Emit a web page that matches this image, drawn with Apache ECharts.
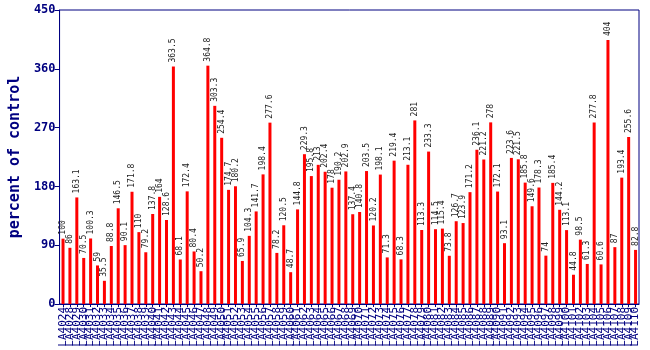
<!DOCTYPE html>
<html>
<head>
<meta charset="utf-8">
<script src="https://cdn.jsdelivr.net/npm/echarts@6/dist/echarts.min.js"></script>
<style>html,body{margin:0;padding:0;background:#fff;}#c{width:650px;height:350px;}</style>
</head>
<body>
<div id="c"></div>
<script>
var values = [100, 86, 163.1, 70.5, 100.3, 59, 35.5, 88.8, 146.5, 90.1, 171.8, 110, 79.2, 137.8, 164, 128.6, 363.5, 68.1, 172.4, 80.4, 50.2, 364.8,
  303.3, 254.4, 174.7, 180.2, 65.9, 104.3, 141.7, 198.4, 277.6, 78.2, 120.5, 48.7, 144.8, 229.3, 195.8, 213, 202.4, 178, 190.2, 202.9, 137.4,
  140.8, 203.5, 120.2, 198.1, 71.3, 219.4, 68.3, 213.1, 281, 113.3, 233.3, 114.5, 115.4, 73.8, 126.7, 123.9, 171.2, 236.1, 221.2, 278, 172.1, 93.1,
  223.6, 221.5, 185.8, 149.6, 178.3, 74, 185.4, 144.2, 113.1, 44.8, 98.5, 61.3, 277.8, 60.6, 404, 87, 193.4, 255.6, 82.8];
var categories = ['LA4024'];
var rest = [];
for (var n = 4028; n < 4028 + 83; n++) rest.push('LA' + n);
categories = categories.concat(rest);
var yTicks = [0, 90, 180, 270, 360, 450];

var navy = '#000080';
var chart = echarts.init(document.getElementById('c'), null, {renderer: 'canvas'});
chart.setOption({
  animation: false,
  grid: {left: 45, right: 11, top: 10, bottom: 46, show: true, borderColor: navy, borderWidth: 1, backgroundColor: 'transparent'},
  xAxis: {
    type: 'category', data: categories,
    axisLine: {lineStyle: {color: navy, width: 1}},
    axisTick: {show: true, alignWithLabel: true, length: 3, lineStyle: {color: navy}},
    axisLabel: {interval: 0, rotate: 90, color: navy, fontFamily: 'DejaVu Sans Mono', fontSize: 11, margin: 3}
  },
  yAxis: {
    type: 'value', min: 0, max: 450, interval: 90,
    name: 'percent of control', nameLocation: 'middle', nameGap: 32,
    nameTextStyle: {color: navy, fontFamily: 'DejaVu Sans Mono', fontSize: 15, fontWeight: 'bold'},
    axisLine: {show: true, lineStyle: {color: navy, width: 1}},
    axisTick: {show: true, length: 5, lineStyle: {color: navy}},
    splitLine: {show: false},
    axisLabel: {color: navy, fontFamily: 'DejaVu Sans Mono', fontSize: 12, fontWeight: 'bold', margin: 4,
      formatter: function (v) { return yTicks.indexOf(v) >= 0 ? String(v) : ''; }}
  },
  series: [{
    type: 'bar', data: values, barWidth: 3,
    itemStyle: {color: '#ff0000'},
    label: {show: true, position: 'top', rotate: 90, align: 'left', verticalAlign: 'middle', distance: 4,
      color: '#222', fontFamily: 'DejaVu Sans Mono', fontSize: 8,
      formatter: function (p) { return String(p.value); }}
  }]
});
</script>
</body>
</html>
